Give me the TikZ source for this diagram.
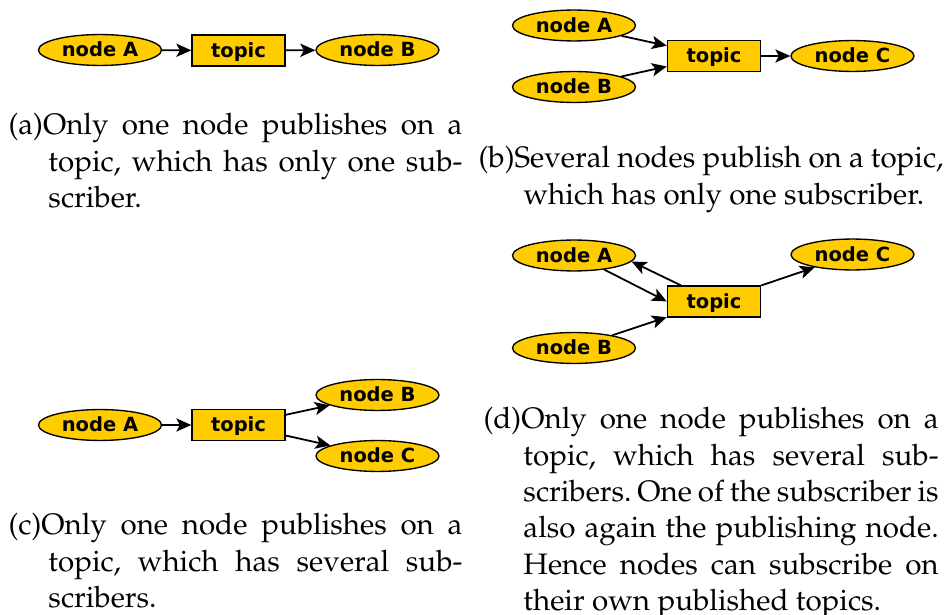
\documentclass[tikz,border=0pt]{standalone}
\usepackage[T1]{fontenc}
\usepackage{fontspec}
\usetikzlibrary{shapes.geometric,arrows.meta}
\newfontfamily\nodefont{DejaVu Sans}
\newcommand\capfont{\fontencoding{T1}\fontfamily{ppl}\fontsize{9.85}{12.1}\selectfont\frenchspacing}
% caption paragraph: label followed by text hanging under the label
\newcommand\capbox[4][13.3pt]{\parbox[t]{#2}{\capfont\hangindent=#1\hangafter=1\noindent(#3)#4\par}}
\definecolor{gold}{HTML}{FFCC00}
\tikzset{
  nd/.style={ellipse, draw=black, line width=0.45pt, fill=gold,
    minimum width=41pt, minimum height=10.3pt, inner sep=0pt,
    text height=4.66pt, text depth=0pt,
    font=\nodefont\bfseries\fontsize{6.5}{7.8}\selectfont},
  tp/.style={rectangle, draw=black, line width=0.45pt, fill=gold,
    minimum width=31pt, minimum height=10.3pt, inner sep=0pt,
    text height=4.66pt, text depth=0pt,
    font=\nodefont\bfseries\fontsize{6.5}{7.8}\selectfont},
  conn/.style={-{Stealth[length=5pt,width=4.4pt,inset=1.2pt]}, line width=0.6pt},
  captext/.style={anchor=north west, inner sep=0pt}
}
\begin{document}
\begin{tikzpicture}[x=1pt/3, y=-1pt/3]
\useasboundingbox (0,0) rectangle (944,615);

% (a) one publisher, one subscriber
\node[nd] (aA) at (100,50) {node A};
\node[tp] (aT) at (238.5,50.5) {topic};
\node[nd] (aB) at (377.5,50) {node B};
\draw[conn] (aA) -- (aT);
\draw[conn] (aT) -- (aB);
\node[captext] (capa) at (8,113)
  {\capbox{151.3pt}{a}{Only one node publishes on a\linebreak topic, which has only one sub-\linebreak scriber.}};

% (b) several publishers, one subscriber
\node[nd] (bA) at (574,25.5) {node A};
\node[nd] (bB) at (574,87) {node B};
\node[tp] (bT) at (714,56) {topic};
\node[nd] (bC) at (852.5,56) {node C};
\draw[conn] (bA) -- (bT);
\draw[conn] (bB) -- (bT);
\draw[conn] (bT) -- (bC);
\node[captext] (capb) at (478,146)
  {\capbox[15pt]{155pt}{b}{Several nodes publish on a topic,\linebreak which has only one subscriber.}};

% (c) one publisher, several subscribers
\node[nd] (cA) at (100,425) {node A};
\node[tp] (cT) at (238.5,425) {topic};
\node[nd] (cB) at (377.5,395) {node B};
\node[nd] (cC) at (377.5,456) {node C};
\draw[conn] (cA) -- (cT);
\draw[conn] (cT) -- (cB);
\draw[conn] (cT) -- (cC);
\node[captext] (capc) at (8,513)
  {\capbox{151.3pt}{c}{Only one node publishes on a\linebreak topic, which has several sub-\linebreak scribers.}};

% (d) a node subscribing to its own topic
\node[nd] (dA) at (574,255.5) {node A};
\node[nd] (dB) at (574,348) {node B};
\node[tp] (dT) at (714,301.5) {topic};
\node[nd] (dC) at (852.5,254.5) {node C};
\draw[conn] (dA.335) -- (dT.west);
\draw[conn] (dT.154) -- (dA.354);
\draw[conn] (dB) -- (dT);
\draw[conn] (dT) -- (dC);
\node[captext] (capd) at (483,407)
  {\capbox{151.7pt}{d}{Only one node publishes on a\linebreak topic, which has several sub-\linebreak scribers. One of the subscriber is\linebreak also again the publishing node.\linebreak Hence nodes can subscribe on\linebreak their own published topics.}};
\end{tikzpicture}
\end{document}
